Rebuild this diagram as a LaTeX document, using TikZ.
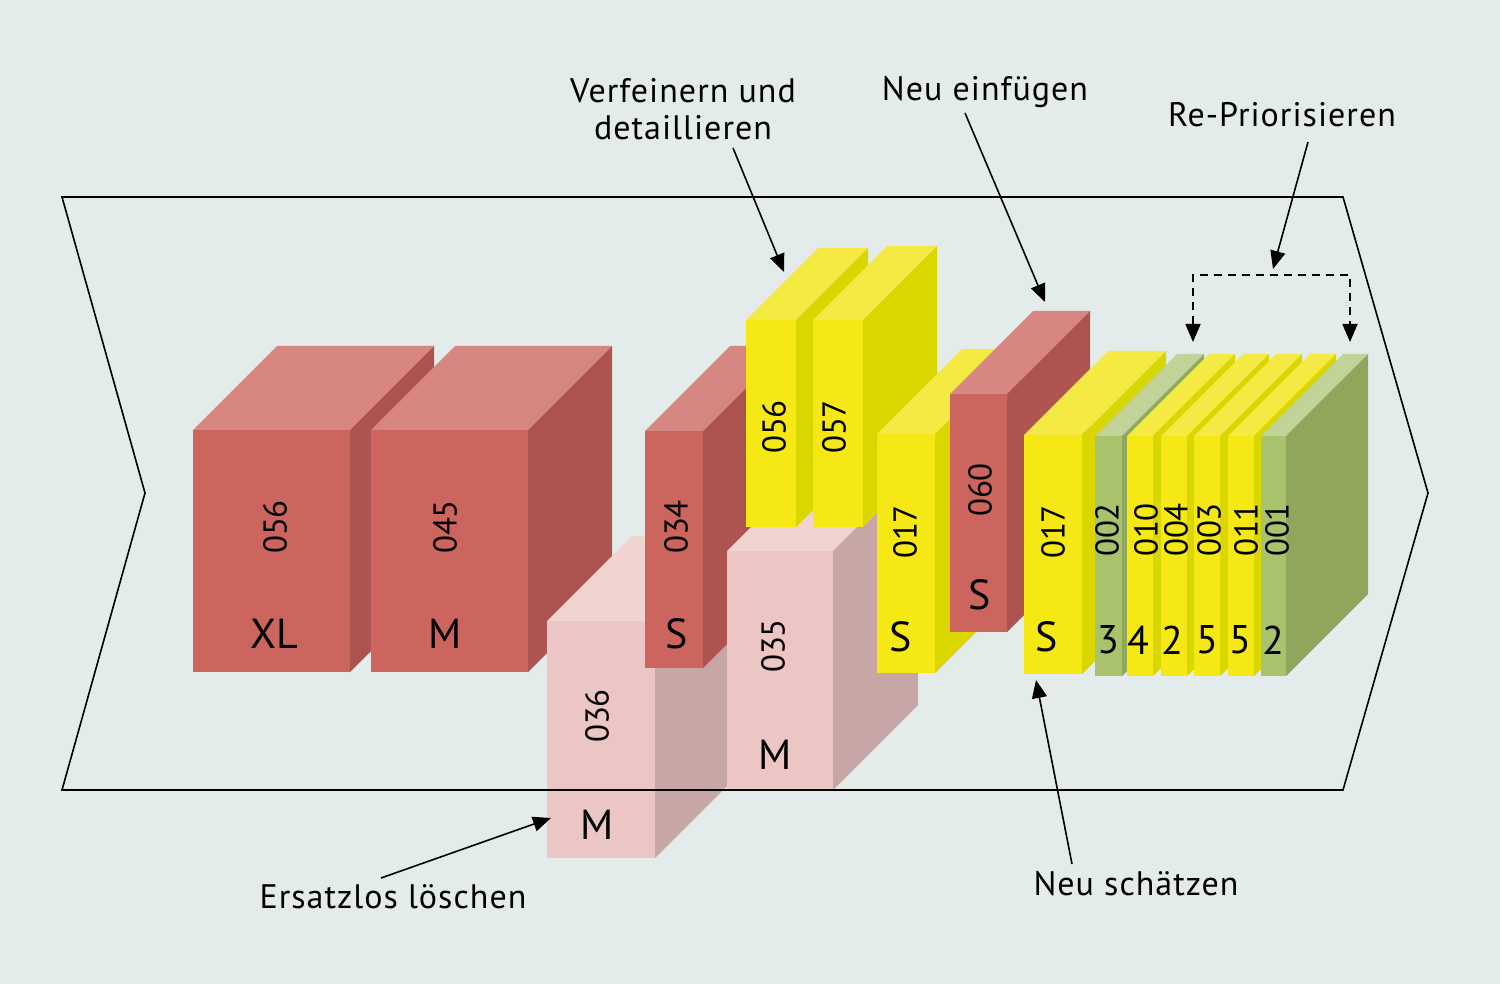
\documentclass[tikz,border=0pt]{standalone}
\usepackage{fontspec}
\setmainfont{PT Sans}
\newfontfamily\lblfont{PT Sans}[LetterSpace=3]
\usetikzlibrary{arrows.meta}
\definecolor{bg}{RGB}{227,236,235}
\definecolor{redF}{RGB}{204,101,94}
\definecolor{redT}{RGB}{216,134,129}
\definecolor{redS}{RGB}{173,84,80}
\definecolor{pinkF}{RGB}{236,198,197}
\definecolor{pinkT}{RGB}{241,212,210}
\definecolor{pinkS}{RGB}{199,166,166}
\definecolor{yelF}{RGB}{245,232,20}
\definecolor{yelT}{RGB}{245,234,68}
\definecolor{yelS}{RGB}{218,214,0}
\definecolor{grnF}{RGB}{168,195,108}
\definecolor{grnT}{RGB}{193,211,152}
\definecolor{grnS}{RGB}{144,166,92}
% #1 x, #2 y (front top-left), #3 width, #4 height, #5 depth, #6 front, #7 top, #8 side
\newcommand\blk[8]{%
  \fill[#7] (#1,#2) -- ++(#5,-#5) -- ++(#3,0) -- ++(-#5,#5) -- cycle;
  \fill[#8] (#1+#3,#2) -- ++(#5,-#5) -- ++(0,#4) -- ++(-#5,#5) -- cycle;
  \fill[#6] (#1,#2) rectangle ++(#3,#4);
}
\begin{document}
\begin{tikzpicture}[x=0.5pt,y=-0.5pt,
  lbl/.style={font=\lblfont\fontsize{17}{18.5}\selectfont, inner sep=0pt, align=center},
  num/.style={font=\fontsize{16.5}{20}\selectfont, rotate=90, inner sep=0pt},
  sz/.style={font=\fontsize{21}{24}\selectfont, inner sep=0pt},
  dg/.style={font=\fontsize{20}{24}\selectfont, inner sep=0pt},
  arr/.style={line width=0.8pt, -{Triangle[length=9pt,width=7.5pt]}},
  darr/.style={line width=0.8pt, dash pattern=on 4pt off 3pt, {Triangle[length=9pt,width=7.5pt]}-{Triangle[length=9pt,width=7.5pt]}},
]
\useasboundingbox (0,0) rectangle (1500,984);
\fill[bg] (0,0) rectangle (1500,984);

% red blocks
\blk{193}{430}{157}{242}{84}{redF}{redT}{redS}
\blk{371}{430}{157}{242}{84}{redF}{redT}{redS}
% pink 036
\blk{547}{621}{108}{237}{85}{pinkF}{pinkT}{pinkS}
% red 034
\blk{645}{431}{58}{237}{85}{redF}{redT}{redS}
% pink 035
\blk{727}{551}{106}{239}{85}{pinkF}{pinkT}{pinkS}
% yellow 056, 057
\blk{746}{320}{50}{207}{72}{yelF}{yelT}{yelS}
\blk{813}{320}{50}{207}{74}{yelF}{yelT}{yelS}
% yellow 017
\blk{877}{434}{58}{239}{85}{yelF}{yelT}{yelS}
% red 060
\blk{950}{394}{57}{238}{83}{redF}{redT}{redS}
% yellow 017 (b)
\blk{1024}{435}{58}{239}{84}{yelF}{yelT}{yelS}
% slabs
\blk{1095}{436}{27}{240}{82}{grnF}{grnT}{grnS}
\blk{1127}{436}{26}{240}{82}{yelF}{yelT}{yelS}
\blk{1161}{436}{26}{240}{82}{yelF}{yelT}{yelS}
\blk{1194}{436}{26}{240}{82}{yelF}{yelT}{yelS}
\blk{1228}{436}{26}{240}{82}{yelF}{yelT}{yelS}
\blk{1261}{436}{25}{240}{82}{grnF}{grnT}{grnS}

% chevron frame
\draw[line width=0.8pt, line join=miter] (62,197) -- (1343,197) -- (1428,493) -- (1343,790) -- (62,790) -- (145,493) -- cycle;

% block labels
\node[num] (n1) at (275,527) {056};
\node[sz]  (s1) at (274,634) {XL};
\node[num] (n2) at (445,527) {045};
\node[sz]  (s2) at (445,634) {M};
\node[num] (n3) at (676,527) {034};
\node[sz]  (s3) at (677,634) {S};
\node[num] (n4) at (597,716) {036};
\node[sz]  (s4) at (597,825) {M};
\node[num] (n5) at (773,646) {035};
\node[sz]  (s5) at (775,755) {M};
\node[num] (n6) at (774,427) {056};
\node[num] (n7) at (834,427) {057};
\node[num] (n8) at (905,532) {017};
\node[sz]  (s8) at (901,637) {S};
\node[num] (n9) at (980,490) {060};
\node[sz]  (s9) at (980,595) {S};
\node[num] (n10) at (1053,532) {017};
\node[sz]  (s10) at (1047,637) {S};
\node[num] (n11) at (1107,530) {002};
\node[dg]  (d11) at (1108,640) {3};
\node[num] (n12) at (1146,530) {010};
\node[dg]  (d12) at (1138,640) {4};
\node[num] (n13) at (1176,530) {004};
\node[dg]  (d13) at (1172,640) {2};
\node[num] (n14) at (1209,530) {003};
\node[dg]  (d14) at (1207,640) {5};
\node[num] (n15) at (1246,530) {011};
\node[dg]  (d15) at (1240,640) {5};
\node[num] (n16) at (1277,530) {001};
\node[dg]  (d16) at (1273,640) {2};

% annotation labels
\node[lbl] (lverf) at (683,109) {Verfeinern und\\detaillieren};
\node[lbl] (lneu) at (985,92) {Neu einfügen};
\node[lbl] (lrep) at (1282,115) {Re-Priorisieren};
\node[lbl] (lers) at (393,897) {Ersatzlos löschen};
\node[lbl] (lsch) at (1136,884) {Neu schätzen};

% arrow endpoints
\coordinate (a1s) at (733,148); \coordinate (a1e) at (784,272);
\coordinate (a2s) at (965,113); \coordinate (a2e) at (1045,302);
\coordinate (a3s) at (1308,142); \coordinate (a3e) at (1273,269);
\coordinate (a4s) at (381,878); \coordinate (a4e) at (551,818);
\coordinate (a5s) at (1072,864); \coordinate (a5e) at (1036,680);
\coordinate (dl) at (1193,342); \coordinate (dtl) at (1193,275);
\coordinate (dtr) at (1350,275); \coordinate (dr) at (1350,342);

\draw[arr] (a1s) -- (a1e);
\draw[arr] (a2s) -- (a2e);
\draw[arr] (a3s) -- (a3e);
\draw[arr] (a4s) -- (a4e);
\draw[arr] (a5s) -- (a5e);
\draw[darr] (dl) -- (dtl) -- (dtr) -- (dr);
\end{tikzpicture}
\end{document}
